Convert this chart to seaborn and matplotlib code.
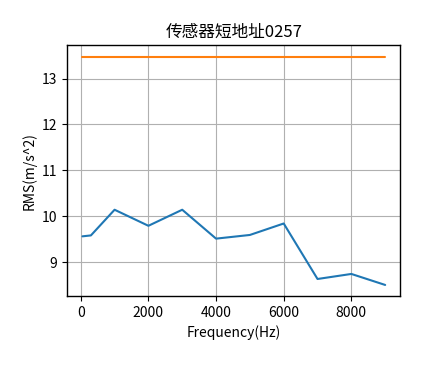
import matplotlib
matplotlib.use("Agg")
import matplotlib.pyplot as plt
import seaborn as sns
import pandas as pd

freq = [50, 300, 1000, 2000, 3000, 4000, 5000, 6000, 7000, 8000, 9000]
rms = [9.56, 9.58, 10.14, 9.79, 10.14, 9.51, 9.59, 9.84, 8.63, 8.74, 8.50]
limit_x = [50, 9000]
limit_y = [13.48, 13.48]

title = "传感器短地址0257"
xlabel = "Frequency(Hz)"
ylabel = "RMS(m/s^2)"

sns.set_theme(style="ticks")
plt.rcParams['font.family'] = ['Noto Sans CJK SC', 'DejaVu Sans']
plt.rcParams['axes.unicode_minus'] = False

fig = plt.figure(figsize=(4.44, 3.70), dpi=100)
ax = fig.add_axes([0.1516, 0.199, 0.75, 0.679])

df = pd.DataFrame({"f": freq, "r": rms})
dl = pd.DataFrame({"f": limit_x, "r": limit_y})
sns.lineplot(data=df, x="f", y="r", ax=ax, color="#1f77b4", linewidth=1.5)
sns.lineplot(data=dl, x="f", y="r", ax=ax, color="#ff7f0e", linewidth=1.5)

ax.grid(True, color="#b0b0b0", linewidth=0.8)
for s in ax.spines.values():
    s.set_color("black")
    s.set_linewidth(1.0)
ax.tick_params(axis="both", colors="black", labelsize=10, length=3.5, width=0.8)
ax.set_xticks([0, 2000, 4000, 6000, 8000])
ax.set_yticks([9, 10, 11, 12, 13])
ax.set_title(title, fontsize=12, color="black")
ax.set_xlabel(xlabel, fontsize=10, color="black")
ax.set_ylabel(ylabel, fontsize=10, color="black")

fig.savefig("out.png", dpi=100, facecolor="white")
